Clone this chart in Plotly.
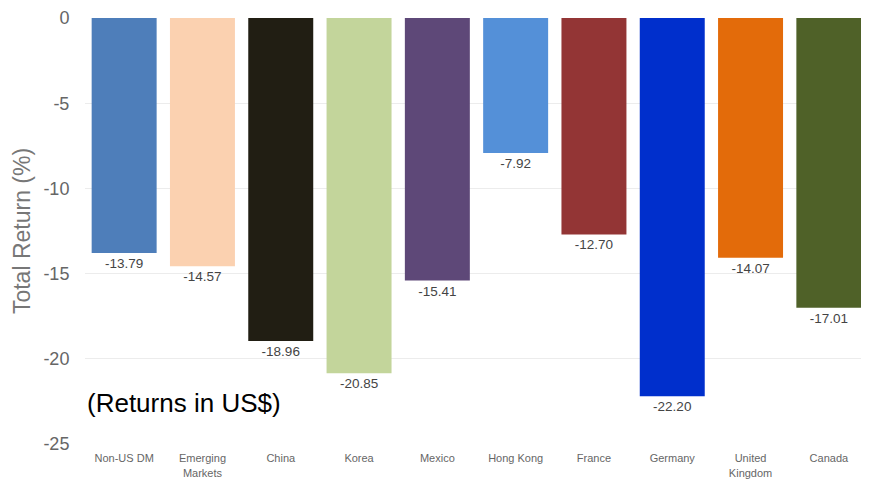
import plotly.graph_objects as go

categories = ["Non-US DM", "Emerging<br>Markets", "China", "Korea", "Mexico",
              "Hong Kong", "France", "Germany", "United<br>Kingdom", "Canada"]
returns = [-13.79, -14.57, -18.96, -20.85, -15.41, -7.92, -12.70, -22.20, -14.07, -17.01]
colors = ["#4E7EBA", "#FBD1B0", "#211E13", "#C3D59B", "#5E4878",
          "#5490D8", "#933535", "#002FCC", "#E36B0A", "#4F6128"]
y_ticks = [0, -5, -10, -15, -20, -25]

fig = go.Figure(go.Bar(
    x=categories, y=returns,
    marker=dict(color=colors, line=dict(width=0)),
    text=[f"{v:.2f}" for v in returns],
    textposition="outside",
    textfont=dict(family="Arial, Liberation Sans", size=13.5, color="#444444"),
    cliponaxis=False,
))

fig.update_layout(
    width=861, height=471,
    margin=dict(l=77, r=1, t=10, b=35),
    plot_bgcolor="white", paper_bgcolor="white",
    bargap=0.17,
    showlegend=False,
    font=dict(family="Arial, Liberation Sans"),
    xaxis=dict(
        tickfont=dict(size=11, color="#666666"),
        showgrid=False, showline=False, zeroline=False,
        ticks="outside", ticklen=4, tickcolor="rgba(0,0,0,0)",
        automargin=False,
    ),
    yaxis=dict(
        range=[-25, 0],
        tickvals=y_ticks,
        ticktext=[str(v) for v in y_ticks],
        tickfont=dict(size=18, color="#666666"),
        showgrid=True, gridcolor="#ECECEC", gridwidth=1,
        zeroline=False, showline=False,
        ticks="outside", ticklen=11, tickcolor="rgba(0,0,0,0)",
        automargin=False,
        title=dict(text="Total Return (%)", font=dict(size=23, color="#777777"), standoff=6),
    ),
    annotations=[dict(
        text="(Returns in US$)", x=0.0, xref="paper", y=-22.6, yref="y",
        xanchor="left", yanchor="middle", showarrow=False,
        font=dict(size=26, color="#000000"),
    )],
)

fig.write_html("out.html")
